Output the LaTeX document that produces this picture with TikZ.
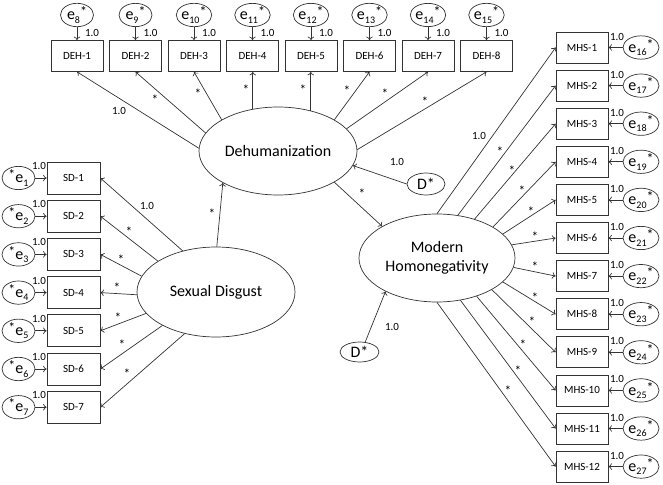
\documentclass[tikz,border=0pt]{standalone}
\usepackage{fontspec}
\setmainfont{Carlito}
\usetikzlibrary{shapes.geometric,arrows.meta}
\newcommand\errR[1]{e\raisebox{-3.5pt}{\fontsize{10}{10}\selectfont#1}\raisebox{3pt}{\fontsize{14}{14}\selectfont*}}
\newcommand\errL[1]{\raisebox{3pt}{\fontsize{14}{14}\selectfont*}e\raisebox{-3.5pt}{\fontsize{10}{10}\selectfont#1}}
\begin{document}
\begin{tikzpicture}[x=1pt,y=-1pt,
 ln/.style={draw=black!80, line width=0.7pt},
 arr/.style={ln,-{To[length=3.5pt,width=6.5pt]}},
 obs/.style={rectangle,draw=black!80,line width=0.7pt,fill=white,minimum width=52pt,minimum height=31pt,inner sep=0pt,font=\fontsize{11}{11}\selectfont},
 lat/.style={ellipse,draw=black!80,line width=0.7pt,fill=white,inner sep=0pt,font=\fontsize{16}{19}\selectfont,align=center},
 err/.style={ellipse,draw=black!80,line width=0.7pt,fill=white,inner sep=0pt,minimum width=34pt,minimum height=21pt,font=\fontsize{16}{16}\selectfont},
 lbl/.style={font=\fontsize{11}{11}\selectfont,inner sep=0pt},
 st/.style={font=\fontsize{13.5}{13.5}\selectfont,inner sep=0pt,yshift=-2.6pt},
]
\useasboundingbox (0,0) rectangle (663,484);

% Dehumanization indicators
\foreach \i in {1,...,8} {
  \pgfmathsetmacro\xx{77+58.5*(\i-1)}
  \pgfmathtruncatemacro\ee{\i+7}
  \node[obs] (deh\i) at (\xx,56) {DEH-\i};
  \node[err,minimum width=33pt,minimum height=20pt] (ed\i) at (\xx,15) {\errR{\ee}};
  \draw[arr] (ed\i) -- (deh\i);
  \node[lbl] at (\xx+15,33) {1.0};
}

% Sexual disgust indicators
\foreach \i in {1,...,7} {
  \pgfmathsetmacro\yy{178+38.2*(\i-1)}
  \node[obs,minimum width=53pt,minimum height=32pt] (sd\i) at (73.5,\yy) {SD-\i};
  \node[err,minimum width=33pt,minimum height=22pt] (es\i) at (18.5,\yy) {\errL{\i}};
  \draw[arr] (es\i) -- (sd\i);
  \node[lbl] at (39,\yy-12) {1.0};
}

% Modern homonegativity indicators
\foreach \i in {1,...,12} {
  \pgfmathsetmacro\yy{47.5+38.1*(\i-1)}
  \pgfmathtruncatemacro\ee{\i+15}
  \node[obs] (mhs\i) at (582,\yy) {MHS-\i};
  \node[err,minimum width=36pt,minimum height=23pt] (em\i) at (641,\yy) {\errR{\ee}};
  \draw[arr] (em\i) -- (mhs\i);
  \node[lbl] at (617,\yy-11) {1.0};
}

% Latent variables
\node[lat,minimum width=158pt,minimum height=88pt] (dehum) at (278,151) {Dehumanization};
\node[lat,minimum width=158pt,minimum height=90pt] (sdis) at (216,292) {Sexual Disgust};
\node[lat,minimum width=156pt,minimum height=88pt] (mh) at (437,258) {Modern\\Homonegativity};
\node[err,minimum width=38pt,minimum height=22pt] (d1) at (426,184) {D*};
\node[err,minimum width=39pt,minimum height=20pt] (d2) at (359.5,352) {D*};

% Dehumanization loadings
\draw[arr] (dehum.178) -- (deh1.south);
\draw[arr] (dehum.166) -- (deh2.south);
\draw[arr] (dehum.151) -- (deh3.south);
\draw[arr] (dehum.121) -- (dehum.121 |- deh4.south);
\draw[arr] (dehum.51) -- (dehum.51 |- deh5.south);
\draw[arr] (dehum.29) -- (deh6.south);
\draw[arr] (dehum.18) -- (deh7.south);
\draw[arr] (dehum.1) -- (deh8.south);
\node[lbl] at (119,111) {1.0};
\foreach \p in {(155,97),(198,91),(246,87),(303,87),(347,88),(385,91),(425,99)}
  \node[st] at \p {*};

% Sexual disgust loadings
\draw[arr] (sdis.129) -- (sd1.east);
\draw[arr] (sdis.152) -- (sd2.east);
\draw[arr] (sdis.168) -- (sd3.east);
\draw[arr] (sdis.182) -- (sd4.east);
\draw[arr] (sdis.197) -- (sd5.east);
\draw[arr] (sdis.212) -- (sd6.east);
\draw[arr] (sdis.233) -- (sd7.east);
\node[lbl] at (147,206) {1.0};
\foreach \p in {(129,229),(121,257),(117,285),(118,315),(122,342),(127,371)}
  \node[st] at \p {*};

% Structural paths
\draw[arr] (sdis.89) -- (dehum.210);
\node[st] at (212,211) {*};
\draw[arr] (dehum.331) -- (mh.150);
\node[st] at (362,191) {*};
\draw[arr] (d1.west) -- (dehum.349);
\node[lbl] at (397,162) {1.0};
\draw[arr] (d2.60) -- (mh.213);
\node[lbl] at (392,327) {1.0};

% Modern homonegativity loadings
\draw[arr] (mh.90) -- (mhs1.west);
\draw[arr] (mh.64) -- (mhs2.west);
\draw[arr] (mh.46) -- (mhs3.west);
\draw[arr] (mh.29) -- (mhs4.west);
\draw[arr] (mh.20) -- (mhs5.west);
\draw[arr] (mh.10) -- (mhs6.west);
\draw[arr] (mh.353) -- (mhs7.west);
\draw[arr] (mh.340) -- (mhs8.west);
\draw[arr] (mh.330) -- (mhs9.west);
\draw[arr] (mh.316) -- (mhs10.west);
\draw[arr] (mh.299) -- (mhs11.west);
\draw[arr] (mh.270) -- (mhs12.west);
\node[lbl] at (479,136) {1.0};
\foreach \p in {(500,149),(512,168),(522,188),(531,209),(535,234),(535,264),(535,295),(532,319),(523,342),(518,368),(508,388)}
  \node[st] at \p {*};
\end{tikzpicture}
\end{document}
